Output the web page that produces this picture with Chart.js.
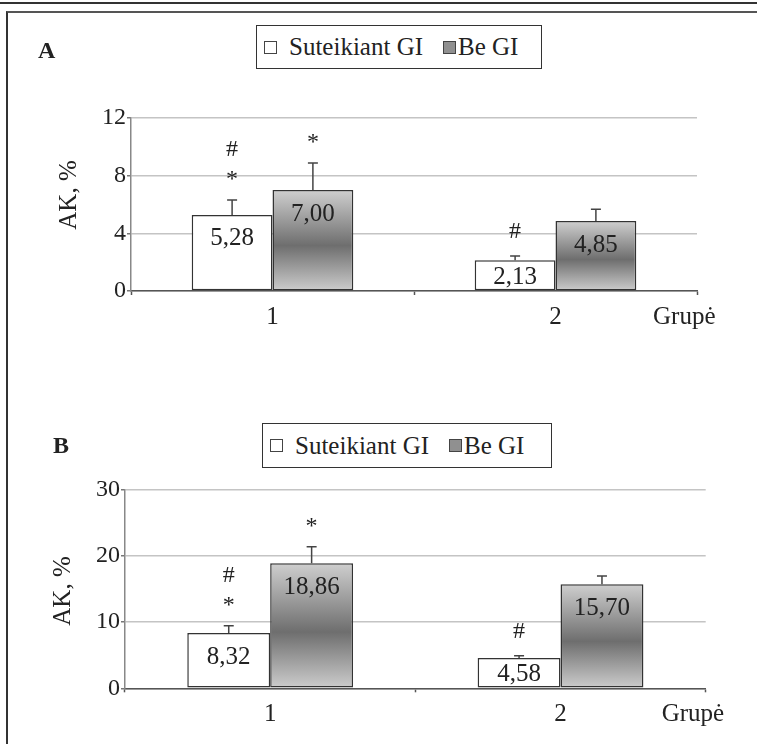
<!DOCTYPE html>
<html>
<head>
<meta charset="utf-8">
<script src="https://cdn.jsdelivr.net/npm/chart.js@4.4.1/dist/chart.umd.min.js"></script>
<style>
  body { margin: 0; background: #fff; }
  #page { position: relative; width: 757px; height: 744px; overflow: hidden; font-family: "Liberation Serif", "Times New Roman", serif; color: #222; }
  .rule { position: absolute; left: 0; top: 2px; width: 757px; border-top: 2px solid #333; }
  .frame { position: absolute; left: 6px; top: 11px; width: 800px; height: 800px; border-left: 2px solid #333; border-top: 2px solid #555; }
  .panel { position: absolute; left: 0; width: 757px; height: 372px; }
  .letter { position: absolute; font-weight: bold; font-size: 24px; line-height: 24px; }
  .legend { position: absolute; box-sizing: border-box; border: 1.5px solid #333; background: #fff; font-size: 25px; white-space: nowrap; display: flex; align-items: center; padding-left: 7px; }
  .sw { display: inline-block; width: 11px; height: 11px; border: 1px solid #444; }
  .sw.white { background: #fff; margin-right: 12px; }
  .sw.gray { background: #909090; margin-left: 20px; margin-right: 2px; }
</style>
</head>
<body>
<div id="page">
  <div class="rule"></div>
  <div class="frame"></div>

  <canvas id="chartA" class="panel" width="757" height="372" style="top:0"></canvas>
  <canvas id="chartB" class="panel" width="757" height="372" style="top:372px"></canvas>

  <div class="letter" style="left:38px; top:38px">A</div>
  <div class="legend" style="left:256px; top:25px; width:286px; height:44px">
    <span class="sw white"></span><span>Suteikiant GI</span><span class="sw gray"></span><span>Be GI</span>
  </div>

  <div class="letter" style="left:53px; top:433px">B</div>
  <div class="legend" style="left:262px; top:423px; width:290px; height:45px">
    <span class="sw white"></span><span>Suteikiant GI</span><span class="sw gray"></span><span>Be GI</span>
  </div>
</div>

<script>
// grupės ir serijos
const groups = ['1', '2'];
const seriesNames = ['Suteikiant GI', 'Be GI'];

// A dalis
const aWithGI = [5.28, 2.13];
const aWithoutGI = [7.00, 4.85];
const aErrWithGI = [1.04, 0.30];
const aErrWithoutGI = [1.87, 0.82];
const aMarksWithGI = [['*', '#'], ['#']];
const aMarksWithoutGI = [['*'], []];
const aTicks = [0, 4, 8, 12];

// B dalis
const bWithGI = [8.32, 4.58];
const bWithoutGI = [18.86, 15.70];
const bErrWithGI = [1.12, 0.34];
const bErrWithoutGI = [2.49, 1.23];
const bMarksWithGI = [['*', '#'], ['#']];
const bMarksWithoutGI = [['*'], []];
const bTicks = [0, 10, 20, 30];

const FONT = '"Liberation Serif", "Times New Roman", serif';
const TEXT = '#222';
Chart.defaults.font.family = FONT;
Chart.defaults.color = TEXT;

function grayGradient(context) {
  const chart = context.chart;
  if (!chart.chartArea) return '#999';
  const y = chart.scales.y;
  const top = y.getPixelForValue(context.raw);
  const base = y.getPixelForValue(0);
  const g = chart.ctx.createLinearGradient(0, top, 0, base);
  g.addColorStop(0, '#cfcfcf');
  g.addColorStop(0.55, '#6e6e6e');
  g.addColorStop(1, '#cdcdcd');
  return g;
}

const barExtras = {
  id: 'barExtras',
  afterDatasetsDraw(chart, args, opts) {
    const { ctx, chartArea, scales: { x, y } } = chart;
    ctx.save();
    chart.data.datasets.forEach((ds, di) => {
      const meta = chart.getDatasetMeta(di);
      meta.data.forEach((bar, i) => {
        const val = ds.data[i];
        const errTop = y.getPixelForValue(val + opts.errors[di][i]);

        // klaidos stulpelis
        ctx.beginPath();
        ctx.strokeStyle = '#444';
        ctx.lineWidth = 1.5;
        ctx.moveTo(bar.x, bar.y);
        ctx.lineTo(bar.x, errTop);
        ctx.moveTo(bar.x - 5, errTop);
        ctx.lineTo(bar.x + 5, errTop);
        ctx.stroke();

        // reikšmė stulpelyje
        ctx.fillStyle = TEXT;
        ctx.font = '25px ' + FONT;
        ctx.textAlign = 'center';
        ctx.textBaseline = 'middle';
        const ly = Math.min(bar.y + 24, bar.base - 13);
        ctx.fillText(val.toFixed(2).replace('.', ','), bar.x, ly);

        // reikšmingumo ženklai
        ctx.font = '24px ' + FONT;
        opts.marks[di][i].forEach((m, k) => {
          const my = errTop - 24 - k * 26 + (m === '*' ? 4 : 0);
          ctx.fillText(m, bar.x, my);
        });
      });
    });

    // ašių pavadinimai
    ctx.font = '25px ' + FONT;
    ctx.textAlign = 'left';
    ctx.textBaseline = 'middle';
    ctx.fillText('Grupė', chartArea.right - 44, x.top + 4 + 7 + 15);

    ctx.translate(chartArea.left - 62, chartArea.top + opts.titleY * (chartArea.bottom - chartArea.top));
    ctx.rotate(-Math.PI / 2);
    ctx.textAlign = 'center';
    ctx.fillText('AK, %', 0, 0);
    ctx.restore();
  }
};

function makeChart(id, withGI, withoutGI, errA, errB, marksA, marksB, ticks, area, titleY) {
  return new Chart(document.getElementById(id), {
    type: 'bar',
    data: {
      labels: groups,
      datasets: [{
        label: seriesNames[0],
        data: withGI,
        backgroundColor: '#ffffff',
        borderColor: '#333',
        borderWidth: 1.5,
        borderSkipped: false
      }, {
        label: seriesNames[1],
        data: withoutGI,
        backgroundColor: grayGradient,
        borderColor: '#333',
        borderWidth: 1.5,
        borderSkipped: false
      }]
    },
    options: {
      responsive: false,
      animation: false,
      events: [],
      categoryPercentage: 0.571,
      barPercentage: 1.0,
      layout: {
        padding: { left: 0, top: area.top, right: 757 - area.right, bottom: 372 - area.bottom - 40 }
      },
      scales: {
        x: {
          afterFit: (s) => { s.height = 40; },
          grid: { drawOnChartArea: false, drawTicks: true, tickLength: 4, tickColor: '#555', tickWidth: 1.5 },
          border: { color: '#555', width: 1.5 },
          ticks: { font: { size: 25 }, color: TEXT, padding: 7, maxRotation: 0 }
        },
        y: {
          min: ticks[0],
          max: ticks[ticks.length - 1],
          afterFit: (s) => { s.width = area.left; },
          afterBuildTicks: (s) => { s.ticks = ticks.map(v => ({ value: v })); },
          grid: { color: '#c4c4c4', lineWidth: 1.5, tickLength: 4, tickColor: '#777', tickWidth: 1.5 },
          border: { color: '#888', width: 1.5 },
          ticks: { font: { size: 24 }, color: TEXT, padding: 1 }
        }
      },
      plugins: {
        legend: { display: false },
        tooltip: { enabled: false },
        barExtras: { errors: [errA, errB], marks: [marksA, marksB], titleY: titleY }
      }
    },
    plugins: [barExtras]
  });
}

makeChart('chartA', aWithGI, aWithoutGI, aErrWithGI, aErrWithoutGI, aMarksWithGI, aMarksWithoutGI, aTicks,
  { left: 131, right: 697, top: 118, bottom: 291 }, 0.445);
makeChart('chartB', bWithGI, bWithoutGI, bErrWithGI, bErrWithoutGI, bMarksWithGI, bMarksWithoutGI, bTicks,
  { left: 125, right: 705.7, top: 117.3, bottom: 316.3 }, 0.511);
</script>
</body>
</html>
